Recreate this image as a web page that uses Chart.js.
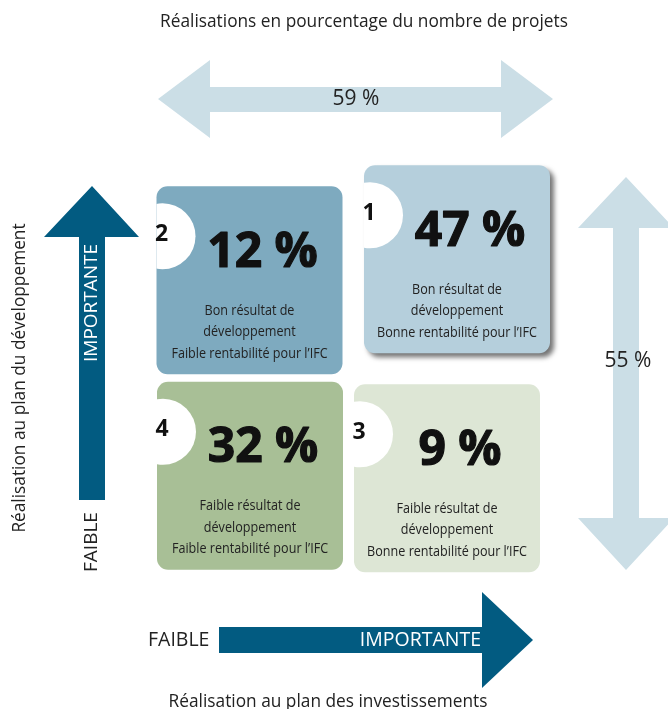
<!DOCTYPE html>
<html>
<head>
<meta charset="utf-8">
<script src="https://cdn.jsdelivr.net/npm/chart.js@4.4.0/dist/chart.umd.min.js"></script>
<style>
  body { margin:0; background:#fff; }
  #wrap { width:668px; height:709px; }
</style>
</head>
<body>
<div id="wrap"><canvas id="matrix" width="668" height="709"></canvas></div>
<script>
// axis levels and quadrant data
const levels = ['FAIBLE', 'IMPORTANTE'];
const quadrantIds = ['1', '2', '3', '4'];
const quadrantShares = [47, 12, 9, 32];
const investLevels = ['IMPORTANTE', 'FAIBLE', 'IMPORTANTE', 'FAIBLE'];
const devLevels = ['IMPORTANTE', 'IMPORTANTE', 'FAIBLE', 'FAIBLE'];
const devLabels = ['Bon résultat de', 'Bon résultat de', 'Faible résultat de', 'Faible résultat de'];
const ifcLabels = ['Bonne rentabilité pour l’IFC', 'Faible rentabilité pour l’IFC', 'Bonne rentabilité pour l’IFC', 'Faible rentabilité pour l’IFC'];
const topShare = 59;
const sideShare = 55;

const titleTop = 'Réalisations en pourcentage du nombre de projets';
const titleX = 'Réalisation au plan des investissements';
const titleY = 'Réalisation au plan du développement';

// styles (index aligned with quadrants)
const boxColors = ['#b5cfdc', '#7eaabf', '#dde6d5', '#a8bf96'];
const boxShift = [[4.5, -7.5], [-6, 13.5], [-5.5, 8], [-5.5, 5.5]];
const boxShadow = [true, false, false, false];
const FONT = '"Open Sans", "Noto Sans", sans-serif';
const lightArrow = '#cbdee6';
const darkArrow = '#025b81';

function poly(ctx, pts, color){
  ctx.beginPath();
  pts.forEach((p,i)=> i ? ctx.lineTo(p[0],p[1]) : ctx.moveTo(p[0],p[1]));
  ctx.closePath();
  ctx.fillStyle = color;
  ctx.fill();
}
function txt(ctx, s, x, y, font, color, align, sx, rot, stroke){
  ctx.save();
  ctx.translate(x, y);
  if (rot) ctx.rotate(rot);
  ctx.scale(sx || 1, 1);
  ctx.font = font;
  ctx.fillStyle = color;
  ctx.textAlign = align || 'center';
  ctx.textBaseline = 'middle';
  ctx.fillText(s, 0, 0);
  if (stroke) {
    ctx.lineWidth = stroke;
    ctx.strokeStyle = color;
    ctx.lineJoin = 'round';
    ctx.strokeText(s, 0, 0);
  }
  ctx.restore();
}

const decor = {
  id: 'decor',
  beforeDatasetsDraw(chart){
    const ctx = chart.ctx;
    // top double arrow
    poly(ctx, [[158,99],[210,60],[210,87],[501,87],[501,60],[553,99],[501,138],[501,112],[210,112],[210,138]], lightArrow);
    // right double arrow
    poly(ctx, [[626,177],[674,228],[639,228],[639,518],[674,518],[626,570],[578,518],[613,518],[613,228],[578,228]], lightArrow);
    // left arrow (development)
    poly(ctx, [[92,186],[139,237],[105,237],[105,500],[79,500],[79,237],[44,237]], darkArrow);
    // bottom arrow (investments)
    poly(ctx, [[219,627],[482,627],[482,592],[533,640],[482,688],[482,653],[219,653]], darkArrow);

    txt(ctx, titleTop, 364, 22, '17.3px ' + FONT, '#222');
    txt(ctx, topShare + ' %', 356, 99, '21px ' + FONT, '#222');
    txt(ctx, sideShare + ' %', 628, 361, '21px ' + FONT, '#222');
    txt(ctx, titleY, 20, 378, '17.3px ' + FONT, '#222', 'center', 1, -Math.PI/2);
    txt(ctx, levels[1], 92, 362, '19px ' + FONT, '#fff', 'left', 1, -Math.PI/2);
    txt(ctx, levels[0], 92, 572, '19px ' + FONT, '#222', 'left', 1, -Math.PI/2);
    txt(ctx, levels[0], 148, 640, '19.5px ' + FONT, '#222', 'left');
    txt(ctx, levels[1], 481, 640, '19.5px ' + FONT, '#fff', 'right');
    txt(ctx, titleX, 328, 702, '17.3px ' + FONT, '#222');

    // quadrant boxes, placed from the scales
    const meta = chart.getDatasetMeta(0);
    const bw = 186, bh = 188;
    meta.data.forEach((pt, i)=>{
      const left = pt.x - bw/2 + boxShift[i][0];
      const top = pt.y - bh/2 + boxShift[i][1];
      ctx.save();
      if (boxShadow[i]) {
        ctx.shadowColor = 'rgba(0,0,0,0.55)';
        ctx.shadowBlur = 5;
        ctx.shadowOffsetX = 4;
        ctx.shadowOffsetY = 4;
      }
      ctx.beginPath();
      ctx.roundRect(left, top, bw, bh, 11);
      ctx.fillStyle = boxColors[i];
      ctx.fill();
      ctx.restore();
      // white notch circle with number
      ctx.save();
      ctx.beginPath();
      ctx.rect(left, top, bw, bh);
      ctx.clip();
      ctx.beginPath();
      ctx.arc(left + 6, top + 50, 33, 0, Math.PI*2);
      ctx.fillStyle = '#fff';
      ctx.fill();
      ctx.restore();
      txt(ctx, quadrantIds[i], left + 5, top + 48, 'bold 23px ' + FONT, '#111');
      txt(ctx, quadrantShares[i] + ' %', left + 106, top + 67, 'bold 48px ' + FONT, '#111', 'center', 1, 0, 1.2);
      const lines = [devLabels[i], 'développement', ifcLabels[i]];
      lines.forEach((l, k)=> txt(ctx, l, left + 93, top + 124 + k*21.5, '15px ' + FONT, '#222', 'center', 0.84));
    });
  }
};

const points = quadrantShares.map((v, i)=>({
  x: levels.indexOf(investLevels[i]) + 0.5,
  y: levels.indexOf(devLevels[i]) + 0.5,
  v
}));

new Chart(document.getElementById('matrix'), {
  type: 'scatter',
  data: { datasets: [{ label: 'Réalisations', data: points, pointRadius: 0, pointHoverRadius: 0 }] },
  options: {
    responsive: false,
    animation: false,
    layout: { padding: { left: 157, right: 117, top: 165, bottom: 137 } },
    scales: {
      x: { type: 'linear', min: 0, max: 2, display: false },
      y: { type: 'linear', min: 0, max: 2, display: false }
    },
    plugins: { legend: { display: false }, tooltip: { enabled: false } }
  },
  plugins: [decor]
});
</script>
</body>
</html>
